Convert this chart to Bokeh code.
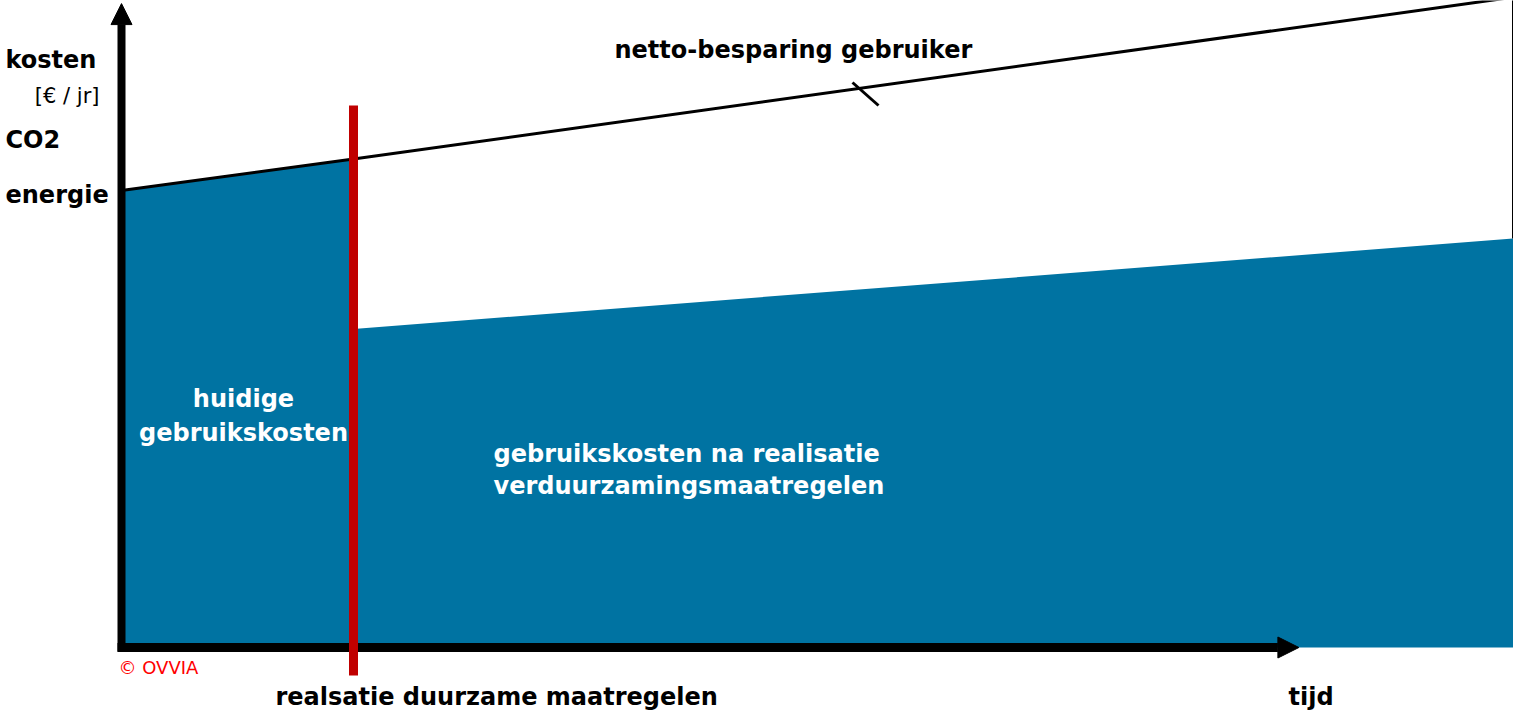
from bokeh.plotting import figure
from bokeh.models import Range1d, Arrow, NormalHead, Label
from bokeh.embed import file_html
from bokeh.resources import INLINE

# ---------------- data (conceptual units) ----------------
time = [0, 2, 12]                      # years
cost_current = [100.0, 106.9, 142.3]   # current usage costs trend
after_time = [2, 12]
cost_after = [69.7, 89.5]              # costs after sustainability measures
realisation_time = 2
axis_time_end = 10.15
axis_cost_end = 140.9

# ---------------- layout helpers ----------------
W, H = 1513, 715
X0_PX, Y0_PX = 121, 647
PX_PER_T, PX_PER_C = 116.0, 4.57
TEXT_SHIFT = 9


def tx(px):
    return (px - X0_PX) / PX_PER_T


def cy(py):
    return (Y0_PX - py) / PX_PER_C


BLUE = "#0073A2"
RED = "#C00000"
FONT = "DejaVu Sans"

p = figure(width=W, height=H, x_range=Range1d(tx(0), tx(W)), y_range=Range1d(cy(H), cy(0)),
           output_backend="svg", toolbar_location=None, min_border=0,
           x_axis_location=None, y_axis_location=None)
p.grid.visible = False
p.outline_line_color = None
p.background_fill_color = "white"
p.border_fill_color = "white"

# blue areas
p.varea(x=time[:2], y1=[0, 0], y2=cost_current[:2], fill_color=BLUE)
p.varea(x=after_time, y1=[0, 0], y2=cost_after, fill_color=BLUE)

# current cost trend line
p.line(time, cost_current, line_width=3, line_color="black")
# right edge of saving region
p.segment(x0=[time[-1]], y0=[cost_after[-1]], x1=[time[-1]], y1=[cost_current[-1]],
          line_width=3, line_color="black")

# leader tick
p.segment(x0=[tx(852)], y0=[cy(82)], x1=[tx(878)], y1=[cy(105)], line_width=3, line_color="black")

# axes arrows
p.add_layout(Arrow(end=NormalHead(size=21, fill_color="black", line_color="black"),
                   x_start=0, y_start=cy(651), x_end=0, y_end=axis_cost_end,
                   line_width=8, line_color="black"))
p.add_layout(Arrow(end=NormalHead(size=21, fill_color="black", line_color="black"),
                   x_start=tx(117), y_start=0, x_end=axis_time_end, y_end=0,
                   line_width=9, line_color="black"))

# realisation line
r = p.segment(x0=[realisation_time], y0=[cy(105)], x1=[realisation_time], y1=[cy(675)],
              line_width=9, line_color=RED)
r.level = "overlay"


def lab(text, xpx, ypx, size=24, bold=True, color="black", align="left"):
    p.add_layout(Label(x=tx(xpx), y=cy(ypx - TEXT_SHIFT), text=text, text_font=FONT,
                       text_font_size=f"{size}px", text_font_style="bold" if bold else "normal",
                       text_color=color, text_align=align, text_baseline="alphabetic"))


lab("kosten", 5, 68)
lab("[€ / jr]", 99, 104, size=21, bold=False, align="right")
lab("CO2", 5, 148)
lab("energie", 5, 203)
lab("netto-besparing gebruiker", 614, 58)
lab("huidige", 243, 407, color="white", align="center")
lab("gebruikskosten", 243, 441, color="white", align="center")
lab("gebruikskosten na realisatie", 493, 462, color="white")
lab("verduurzamingsmaatregelen", 493, 494, color="white")
lab("realsatie duurzame maatregelen", 275, 705)
lab("tijd", 1288, 705)
lab("© OVVIA", 118, 676, size=18, bold=False, color="#FF0000")

open("out.html", "w").write(file_html(p, INLINE))
